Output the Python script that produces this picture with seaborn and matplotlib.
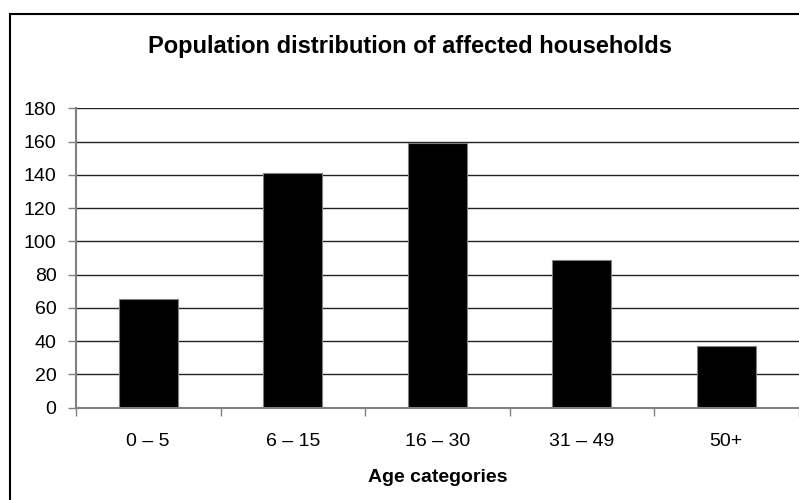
import matplotlib
matplotlib.use("Agg")
import matplotlib.pyplot as plt
from matplotlib.patches import Rectangle
from matplotlib.ticker import FixedLocator
import seaborn as sns
import pandas as pd

# Household members by age group
categories = ["0 \u2013 5", "6 \u2013 15", "16 \u2013 30", "31 \u2013 49", "50+"]
counts = [65, 141, 159, 89, 37]
y_ticks = [0, 20, 40, 60, 80, 100, 120, 140, 160, 180]

df = pd.DataFrame({"age": categories, "count": counts})

sns.set_theme(style="white")
plt.rcParams["font.family"] = ["Liberation Sans", "DejaVu Sans"]
plt.rcParams["text.color"] = "black"
plt.rcParams["xtick.color"] = "black"
plt.rcParams["ytick.color"] = "black"
plt.rcParams["axes.labelcolor"] = "black"

fig = plt.figure(figsize=(7.99, 5.00), dpi=100)
fig.patch.set_facecolor("white")

# outer chart frame
W, H = 799, 500
fig.patches.append(Rectangle((10 / W, -0.1), 1.2, (H - 14) / H + 0.1,
                             transform=fig.transFigure, fill=False,
                             edgecolor="black", linewidth=1.5, clip_on=False))

ax = fig.add_axes([76 / W, 92.5 / H, (798.5 - 76) / W, (407.5 - 108.3) / H])

sns.barplot(data=df, x="age", y="count", color="black", width=0.41,
            edgecolor="#808080", linewidth=0.8, saturation=1, ax=ax)

ax.set_ylim(0, 180)
ax.set_xlim(-0.5, len(categories) - 0.5)
ax.set_yticks(y_ticks)
ax.yaxis.grid(True, color="#222222", linewidth=1.0)
ax.set_axisbelow(True)

for side in ("top", "right"):
    ax.spines[side].set_visible(False)
for side in ("left", "bottom"):
    ax.spines[side].set_color("#808080")
    ax.spines[side].set_linewidth(1.5)

ax.tick_params(axis="y", which="major", direction="out", length=6, width=1,
               color="#808080", labelcolor="black", labelsize=14, pad=8, left=True)
ax.tick_params(axis="x", which="major", length=0, labelsize=14, labelcolor="black", pad=18)
ax.xaxis.set_minor_locator(FixedLocator([i + 0.5 for i in range(-1, len(categories))]))
ax.tick_params(axis="x", which="minor", direction="out", length=6, width=1,
               color="#808080", bottom=True)

ax.set_ylabel("")
ax.set_xlabel("Age categories", fontsize=14, fontweight="bold", labelpad=14,
              color="black")

fig.text(410.5 / W, 1 - 46 / H, "Population distribution of affected households",
         ha="center", va="center", fontsize=17, fontweight="bold", color="black")

fig.savefig("out.png", dpi=100)
